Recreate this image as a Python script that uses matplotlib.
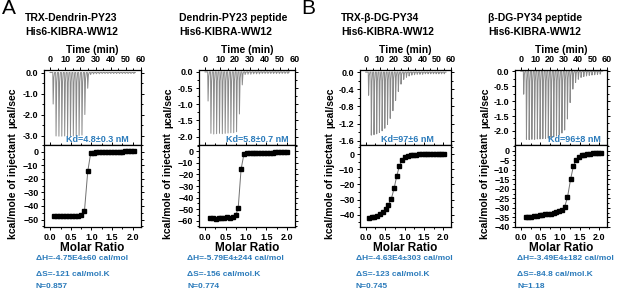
import matplotlib
matplotlib.use("Agg")
import matplotlib.pyplot as plt
from matplotlib.ticker import MultipleLocator, FormatStrFormatter

plt.rcParams['font.family'] = ['Liberation Sans', 'DejaVu Sans']
plt.rcParams['font.weight'] = 'bold'
plt.rcParams['axes.labelweight'] = 'bold'

BLUE = '#2b7bbb'
GREY = '#8a8a8a'

# --- data -------------------------------------------------------------
titles_1 = ['TRX-Dendrin-PY23', 'Dendrin-PY23 peptide', 'TRX-\u03b2-DG-PY34', '\u03b2-DG-PY34 peptide']
titles_2 = ['His6-KIBRA-WW12'] * 4
kd_labels = ['Kd=4.8\u00b10.3 nM', 'Kd=5.8\u00b10.7 nM', 'Kd=97\u00b16 nM', 'Kd=96\u00b18 nM']
dH_labels = ['\u0394H=-4.75E4\u00b160 cal/mol', '\u0394H=-5.79E4\u00b1244 cal/mol',
             '\u0394H=-4.63E4\u00b1303 cal/mol', '\u0394H=-3.49E4\u00b1182 cal/mol']
dS_labels = ['\u0394S=-121 cal/mol.K', '\u0394S=-156 cal/mol.K',
             '\u0394S=-123 cal/mol.K', '\u0394S=-84.8 cal/mol.K']
n_labels = ['N=0.857', 'N=0.774', 'N=0.745', 'N=1.18']

# injection times (min)
inj_times = [1.8, 3.7, 5.6, 7.5, 9.4, 11.3, 13.2, 15.1, 17.0, 18.9, 20.8, 22.7, 24.6, 26.5,
             28.4, 30.3, 32.2, 34.1, 36.0, 37.9, 39.8, 41.7, 43.6, 45.5, 47.4, 49.3, 51.2,
             53.1, 55.0]
trace_end = [56.0, 56.0, 56.5, 57.0]

# raw heat peaks (ucal/sec)
peaks_1 = [-1.5, -3.02, -3.03, -3.03, -3.02, -3.03, -3.02, -3.02, -3.01, -3.0, -2.98, -2.0, -0.75,
           -0.1, -0.07, -0.06, -0.06, -0.05, -0.05, -0.05, -0.05, -0.05, -0.05, -0.05, -0.05,
           -0.05, -0.05, -0.05, -0.05]
peaks_2 = [-0.9, -1.9, -1.92, -1.91, -1.9, -1.91, -1.9, -1.89, -1.88, -1.88, -1.85, -1.3, -0.4,
           -0.08, -0.07, -0.07, -0.06, -0.06, -0.06, -0.05, -0.05, -0.05, -0.05, -0.05, -0.05,
           -0.05, -0.05, -0.05, -0.05]
peaks_3 = [-0.54, -1.47, -1.46, -1.44, -1.41, -1.37, -1.31, -1.22, -1.08, -0.9, -0.66, -0.45,
           -0.28, -0.17, -0.12, -0.09, -0.07, -0.06, -0.05, -0.05, -0.05, -0.04, -0.04, -0.04,
           -0.04, -0.04, -0.04, -0.04, -0.04]
peaks_4 = [-0.77, -2.28, -2.29, -2.28, -2.28, -2.27, -2.27, -2.26, -2.25, -2.24, -2.22, -2.2,
           -2.17, -2.13, -2.07, -1.97, -1.6, -1.05, -0.6, -0.38, -0.27, -0.21, -0.18, -0.16,
           -0.14, -0.13, -0.12, -0.11, -0.1]

# integrated heats (kcal/mole of injectant) vs molar ratio
ratio_1 = [0.10, 0.17, 0.24, 0.31, 0.38, 0.45, 0.52, 0.60, 0.67, 0.75, 0.83, 0.91, 0.98, 1.05,
           1.12, 1.19, 1.26, 1.33, 1.40, 1.47, 1.54, 1.61, 1.68, 1.75, 1.82, 1.89, 1.96, 2.03]
heat_1 = [-47.6, -47.6, -47.6, -47.6, -47.6, -47.5, -47.5, -47.5, -47.3, -46.8, -43.8, -14.5,
          -1.2, -0.6, -0.4, -0.3, -0.2, -0.1, 0.0, 0.0, 0.1, 0.1, 0.2, 0.2, 0.3, 0.3, 0.4, 0.4]
ratio_2 = [0.12, 0.19, 0.26, 0.33, 0.40, 0.47, 0.54, 0.61, 0.68, 0.75, 0.81, 0.88, 0.95, 1.02,
           1.09, 1.16, 1.23, 1.30, 1.37, 1.44, 1.51, 1.58, 1.65, 1.72, 1.79, 1.86, 1.93, 2.00]
heat_2 = [-58.0, -57.5, -58.5, -58.0, -58.0, -57.5, -57.0, -57.5, -56.5, -55.5, -48.8, -15.5,
          -2.3, -1.8, -1.6, -1.5, -1.4, -1.3, -1.2, -1.2, -1.1, -1.2, -1.0, -0.9, -0.8, -0.7,
          -0.6, -0.5]
ratio_3 = [0.08, 0.15, 0.22, 0.29, 0.37, 0.44, 0.51, 0.58, 0.66, 0.73, 0.80, 0.87, 0.94, 1.02,
           1.09, 1.16, 1.23, 1.30, 1.37, 1.45, 1.52, 1.59, 1.66, 1.73, 1.81, 1.88, 1.95, 2.02]
heat_3 = [-41.8, -41.6, -41.2, -40.6, -39.6, -38.3, -36.3, -33.5, -29.3, -22.6, -14.3, -7.6,
          -3.8, -1.9, -1.0, -0.6, -0.4, -0.3, -0.2, -0.1, -0.1, 0.0, 0.0, 0.0, 0.0, 0.0, 0.0, 0.0]
ratio_4 = [0.12, 0.19, 0.26, 0.33, 0.41, 0.48, 0.55, 0.62, 0.69, 0.76, 0.84, 0.91, 0.98, 1.05,
           1.12, 1.19, 1.27, 1.34, 1.41, 1.48, 1.55, 1.62, 1.70, 1.77, 1.84, 1.91, 1.98, 2.05]
heat_4 = [-35.0, -34.7, -34.5, -34.2, -34.0, -33.8, -33.6, -33.4, -33.2, -33.0, -32.7, -32.3,
          -31.8, -31.0, -29.3, -24.5, -15.0, -8.2, -4.8, -3.2, -2.5, -2.0, -1.7, -1.5, -1.3,
          -1.2, -1.1, -1.0]

peaks = [peaks_1, peaks_2, peaks_3, peaks_4]
ratios = [ratio_1, ratio_2, ratio_3, ratio_4]
heats = [heat_1, heat_2, heat_3, heat_4]

# --- layout (pixels of a 617x291 canvas) ------------------------------
W, H = 617, 291
ax_left = [44, 199, 360, 515]
ax_width = [97, 96, 91, 92]
top_ylim = [(-3.45, 0.12), (-2.26, 0.06), (-1.70, 0.05), (-2.47, 0.04)]
top_ystep = [1.0, 0.5, 0.4, 0.5]
bot_ylim = [(-55.5, 5.0), (-65.5, 5.5), (-48.0, 6.0), (-40.0, 3.0)]
bot_ystep = [10, 10, 10, 5]
kd_x = [0.55, 0.61, 0.52, 0.65]
title_x = [25, 179, 341, 488]
info_x = [36, 187, 356, 517]

# spike shape: (time offset in min, fraction of peak)
SPIKE_SHAPE = [(0.0, 0.0), (0.25, 1.0), (0.7, 0.15), (1.2, 0.0)]


def px_rect(left, top, width, height):
    return [left / W, 1 - (top + height) / H, width / W, height / H]


def style_ticks(ax):
    ax.tick_params(which='both', direction='out', width=0.7, labelsize=6.5, pad=1.5)
    ax.tick_params(which='major', length=2.5)
    ax.tick_params(which='minor', length=1.5)
    ax.tick_params(axis='y', which='both', right=True)
    for s in ax.spines.values():
        s.set_linewidth(0.9)


fig = plt.figure(figsize=(W / 100, H / 100), dpi=100)

for i in range(4):
    # thermogram
    ax1 = fig.add_axes(px_rect(ax_left[i], 70, ax_width[i], 75))
    t = [0.0]
    y = [0.0]
    for t0, h in zip(inj_times, peaks[i]):
        for dt, f in SPIKE_SHAPE:
            t.append(t0 + dt)
            y.append(f * h)
    t.append(trace_end[i])
    y.append(0.0)
    ax1.plot(t, y, color=GREY, lw=0.7)
    ax1.set_xlim(-4, 60)
    ax1.set_ylim(*top_ylim[i])
    ax1.xaxis.set_major_locator(MultipleLocator(10))
    ax1.xaxis.set_minor_locator(MultipleLocator(5))
    ax1.yaxis.set_major_locator(MultipleLocator(top_ystep[i]))
    ax1.yaxis.set_minor_locator(MultipleLocator(top_ystep[i] / 2))
    ax1.yaxis.set_major_formatter(FormatStrFormatter('%.1f'))
    ax1.xaxis.tick_top()
    ax1.xaxis.set_label_position('top')
    ax1.set_xlabel('Time (min)', fontsize=7.5, labelpad=2)
    ax1.set_ylabel('\u00b5cal/sec', fontsize=7.5)
    ax1.yaxis.set_label_coords(-0.27, 0.5)
    style_ticks(ax1)
    ax1.text(kd_x[i], 0.02, kd_labels[i], transform=ax1.transAxes, ha='center', va='bottom',
             color=BLUE, fontsize=6.5, fontweight='bold')

    # binding isotherm
    ax2 = fig.add_axes(px_rect(ax_left[i], 145, ax_width[i], 82))
    ax2.plot(ratios[i], heats[i], color='#707070', lw=0.7, zorder=1)
    ax2.plot(ratios[i], heats[i], ls='none', marker='s', ms=2.2, color='black', zorder=2)
    ax2.set_xlim(-0.15, 2.2)
    ax2.set_ylim(*bot_ylim[i])
    ax2.xaxis.set_major_locator(MultipleLocator(0.5))
    ax2.xaxis.set_minor_locator(MultipleLocator(0.25))
    ax2.yaxis.set_major_locator(MultipleLocator(bot_ystep[i]))
    ax2.yaxis.set_minor_locator(MultipleLocator(bot_ystep[i] / 2))
    ax2.xaxis.set_major_formatter(FormatStrFormatter('%.1f'))
    ax2.set_xlabel('Molar Ratio', fontsize=8.5, labelpad=0)
    ax2.set_ylabel('kcal/mole of injectant', fontsize=7.5)
    ax2.yaxis.set_label_coords(-0.27, 0.5)
    style_ticks(ax2)
    ax2.tick_params(axis='x', which='both', top=True)

    # titles and fit results
    fig.text(title_x[i] / W, 1 - 18 / H, titles_1[i], fontsize=7.5, va='center', ha='left')
    fig.text(title_x[i] / W, 1 - 32 / H, titles_2[i], fontsize=7.5, va='center', ha='left')
    fig.text(info_x[i] / W, 1 - 259 / H, dH_labels[i], fontsize=6, color=BLUE, va='center')
    fig.text(info_x[i] / W, 1 - 274 / H, dS_labels[i], fontsize=6, color=BLUE, va='center')
    fig.text(info_x[i] / W, 1 - 286 / H, n_labels[i], fontsize=6, color=BLUE, va='center')

fig.text(2 / W, 1 - 9 / H, 'A', fontsize=15, fontweight='normal', va='center')
fig.text(301 / W, 1 - 9 / H, 'B', fontsize=15, fontweight='normal', va='center')

fig.savefig('out.png', dpi=100)
